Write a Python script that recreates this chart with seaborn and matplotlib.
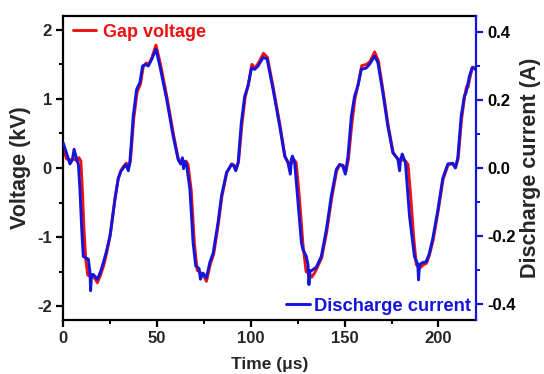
import matplotlib
matplotlib.use("Agg")
import matplotlib.pyplot as plt
from matplotlib.ticker import MultipleLocator
from matplotlib.lines import Line2D
import seaborn as sns

# ---- data ----
t_voltage = [0, 1.0, 2.0, 4.0, 6.0, 7.5, 8.5, 9.5, 10.3, 11.2, 12.2, 13.2, 15.0, 16.5, 18.3, 20.0,
             21.8, 23.5, 25.3, 27.8, 29.5, 31.0, 32.4, 33.8, 34.8, 35.9, 37.7, 39.5, 41.3, 42.7,
             44.3, 45.7, 47.4, 49.5, 51.8, 55.4, 58.9, 61.5, 63.0, 64.5, 65.5, 66.6, 68.3, 70.0,
             71.5, 73.5, 75.0, 76.4, 78.4, 80.3, 82.8, 84.6, 87.3, 89.9, 91.2, 92.2, 93.5, 95.3,
             97.0, 98.8, 100.6, 102.3, 104.1, 106.8, 108.9, 112.1, 115.6, 118.3, 120.0, 121.5,
             123.0, 124.2, 126.0, 127.8, 129.5, 131.0, 132.5, 134.0, 135.1, 137.8, 140.5, 143.1,
             145.8, 147.5, 149.2, 150.6, 152.0, 153.8, 155.5, 157.3, 159.1, 161.7, 163.5, 166.0,
             168.0, 170.6, 173.2, 175.9, 178.6, 180.5, 182.5, 183.8, 185.2, 186.8, 188.2, 190.0,
             192.0, 193.6, 195.2, 197.2, 199.8, 202.5, 205.2, 207.8, 209.2, 210.5, 212.3, 214.0,
             215.0, 215.8, 216.7, 218.1, 219.2, 220.0]
gap_voltage_kv = [0.30, 0.20, 0.13, 0.12, 0.13, 0.10, 0.15, 0.10, -0.30, -0.90, -1.35, -1.55, -1.58,
                  -1.58, -1.66, -1.55, -1.40, -1.20, -0.95, -0.42, -0.14, -0.03, 0.03, 0.07, 0.00,
                  0.10, 0.72, 1.10, 1.22, 1.46, 1.52, 1.50, 1.60, 1.78, 1.52, 1.02, 0.48, 0.12,
                  0.06, 0.07, 0.10, 0.05, -0.32, -1.10, -1.48, -1.52, -1.56, -1.64, -1.40, -1.24,
                  -0.80, -0.42, -0.06, 0.06, 0.04, -0.02, 0.09, 0.63, 1.02, 1.22, 1.50, 1.45, 1.52,
                  1.66, 1.60, 1.15, 0.62, 0.16, 0.08, 0.06, 0.12, 0.08, -0.45, -1.10, -1.50, -1.52,
                  -1.58, -1.52, -1.46, -1.30, -0.92, -0.44, -0.04, 0.05, 0.04, -0.06, 0.12, 0.62,
                  1.00, 1.22, 1.48, 1.50, 1.54, 1.68, 1.55, 1.10, 0.62, 0.22, 0.12, 0.12, 0.10,
                  0.05, -0.40, -1.00, -1.40, -1.45, -1.40, -1.38, -1.26, -1.04, -0.63, -0.16, 0.05,
                  0.06, 0.01, 0.14, 0.70, 1.05, 1.18, 1.17, 1.30, 1.46, 1.45, 1.43]

t_current = [0, 1.5, 3.7, 5.0, 5.9, 7.3, 8.2, 9.0, 10.0, 10.8, 12.0, 13.5, 14.4, 14.7, 15.2, 16.1,
             18.3, 20.0, 21.5, 23.0, 25.0, 27.7, 29.4, 30.8, 32.1, 33.5, 34.8, 35.6, 36.5, 37.4,
             39.2, 41.0, 42.4, 44.1, 45.4, 47.2, 49.5, 51.6, 55.2, 58.7, 61.3, 62.6, 63.6, 64.2,
             64.8, 65.8, 67.6, 69.3, 70.7, 72.5, 73.2, 74.6, 76.4, 78.2, 80.0, 82.6, 84.4, 87.1,
             89.7, 91.0, 92.0, 93.3, 95.0, 96.8, 98.6, 100.4, 102.1, 103.9, 106.6, 108.7, 111.9,
             115.4, 118.1, 119.8, 121.1, 121.6, 122.2, 123.4, 125.2, 127.0, 127.8, 129.6, 130.5,
             131.0, 131.6, 132.3, 134.9, 137.6, 140.3, 142.9, 145.6, 147.3, 149.0, 150.4, 151.8,
             153.6, 155.3, 157.1, 158.9, 161.5, 163.3, 166.0, 167.7, 170.4, 173.0, 175.7, 178.4,
             179.3, 179.8, 180.7, 182.4, 184.6, 187.2, 189.0, 189.4, 189.9, 191.6, 193.4, 195.0,
             197.0, 199.6, 202.3, 205.0, 207.6, 209.0, 210.3, 212.1, 213.8, 214.7, 216.5, 217.9,
             219.0, 220.0]
discharge_current_a = [0.075, 0.051, 0.012, 0.024, 0.055, 0.026, 0.010, -0.061, -0.183, -0.260,
                       -0.264, -0.268, -0.309, -0.361, -0.315, -0.313, -0.327, -0.305, -0.278,
                       -0.248, -0.201, -0.091, -0.032, -0.010, 0.000, 0.010, -0.008, 0.016, 0.081,
                       0.152, 0.231, 0.252, 0.300, 0.305, 0.300, 0.319, 0.349, 0.300, 0.203, 0.093,
                       0.026, 0.012, 0.030, -0.002, 0.020, 0.010, -0.063, -0.219, -0.288, -0.296,
                       -0.327, -0.309, -0.323, -0.278, -0.250, -0.160, -0.083, -0.014, 0.010, 0.006,
                       -0.008, 0.016, 0.134, 0.211, 0.242, 0.294, 0.290, 0.300, 0.325, 0.321, 0.231,
                       0.124, 0.035, 0.016, -0.018, 0.024, 0.035, 0.016, -0.102, -0.219, -0.240,
                       -0.260, -0.284, -0.343, -0.302, -0.302, -0.292, -0.260, -0.181, -0.083,
                       -0.004, 0.010, 0.006, -0.018, 0.035, 0.152, 0.211, 0.242, 0.290, 0.294, 0.305,
                       0.329, 0.311, 0.221, 0.124, 0.045, 0.026, -0.008, 0.024, 0.041, 0.016, -0.142,
                       -0.260, -0.284, -0.329, -0.284, -0.278, -0.276, -0.254, -0.207, -0.126, -0.030,
                       0.012, 0.014, 0.000, 0.030, 0.152, 0.211, 0.221, 0.270, 0.294, 0.294, 0.288]

x_ticks = [0, 50, 100, 150, 200]
v_ticks = [-2, -1, 0, 1, 2]
i_ticks = [-0.4, -0.2, 0.0, 0.2, 0.4]

RED = "#ee1111"
BLUE = "#1414dc"

sns.set_style("white")
plt.rcParams["font.family"] = ["Liberation Sans", "DejaVu Sans"]
plt.rcParams["font.weight"] = "bold"

fig = plt.figure(figsize=(5.44, 3.74), dpi=100)
ax = fig.add_axes([63 / 544, 54 / 374, 413 / 544, 304 / 374])
ax2 = ax.twinx()

sns.lineplot(x=t_voltage, y=gap_voltage_kv, ax=ax, color=RED, lw=2.1, estimator=None, sort=False)
sns.lineplot(x=t_current, y=discharge_current_a, ax=ax2, color=BLUE, lw=2.1, estimator=None, sort=False)

ax.set_xlim(0, 220)
ax.set_ylim(-2.2, 2.2)
ax2.set_ylim(-0.447, 0.447)
ax.set_xticks(x_ticks)
ax.set_yticks(v_ticks)
ax2.set_yticks(i_ticks)
ax.set_yticklabels([str(v) for v in v_ticks])
ax2.set_yticklabels([f"{v:.1f}" for v in i_ticks])
ax.xaxis.set_minor_locator(MultipleLocator(25))
ax.yaxis.set_minor_locator(MultipleLocator(0.5))
ax2.yaxis.set_minor_locator(MultipleLocator(0.1))

for s in ["left", "top", "bottom"]:
    ax.spines[s].set_color("black")
    ax.spines[s].set_linewidth(1.6)
ax.spines["right"].set_visible(False)
for s in ["left", "top", "bottom"]:
    ax2.spines[s].set_visible(False)
ax2.spines["right"].set_color(BLUE)
ax2.spines["right"].set_linewidth(1.6)

ax.tick_params(axis="both", which="major", direction="out", length=5, width=1.6,
               labelsize=12, color="black", left=True, bottom=True, pad=3)
ax.tick_params(axis="both", which="minor", direction="out", length=3, width=1.4,
               color="black", left=True, bottom=True)
ax2.tick_params(axis="y", which="major", direction="out", length=5, width=1.6,
                labelsize=12, color=BLUE, labelcolor="black", right=True, pad=3)
ax2.tick_params(axis="y", which="minor", direction="out", length=3, width=1.4,
                color=BLUE, right=True)
for lab in ax.get_xticklabels() + ax.get_yticklabels() + ax2.get_yticklabels():
    lab.set_fontweight("bold")

ax.set_xlabel("Time (\u03bcs)", fontsize=12.5, fontweight="bold")
ax.set_ylabel("Voltage (kV)", fontsize=15.5, fontweight="bold")
ax2.set_ylabel("Discharge current (A)", fontsize=15.5, fontweight="bold")
ax.yaxis.set_label_coords(-0.078, 0.5)
ax2.yaxis.set_label_coords(1.107, 0.5)
ax.xaxis.set_label_coords(0.5, -0.122)

leg1 = ax.legend(handles=[Line2D([], [], color=RED, lw=2.1)], labels=["Gap voltage"],
                 loc="upper left", bbox_to_anchor=(-0.007, 1.016), frameon=False,
                 handlelength=1.3, handletextpad=0.35, borderaxespad=0.3,
                 prop={"weight": "bold", "size": 13}, labelcolor=RED)
leg2 = ax2.legend(handles=[Line2D([], [], color=BLUE, lw=2.1)], labels=["Discharge current"],
                  loc="lower right", bbox_to_anchor=(1.01, -0.013), frameon=False,
                  handlelength=1.3, handletextpad=0.2, borderaxespad=0.1,
                  prop={"weight": "bold", "size": 13.2}, labelcolor=BLUE)

fig.savefig("out.png", dpi=100)
